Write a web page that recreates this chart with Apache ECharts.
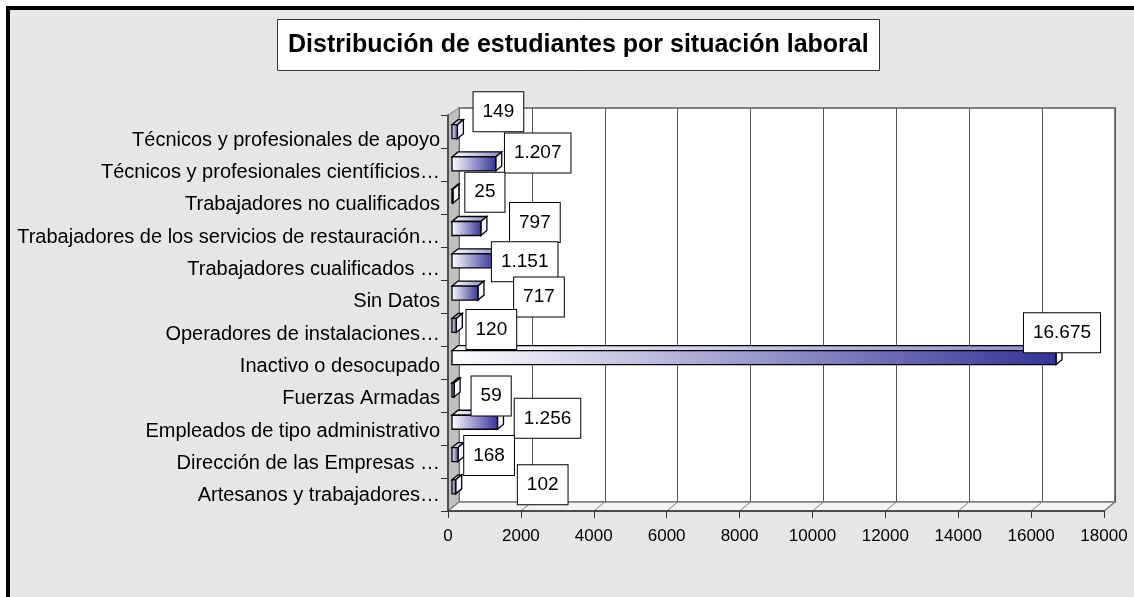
<!DOCTYPE html>
<html style="height: 100%">
  <head>
    <meta charset="UTF-8" />
    <title>Distribución de estudiantes por situación laboral</title>
    <script src="https://cdn.jsdelivr.net/npm/echarts@6/dist/echarts.min.js"></script>
  </head>
  <body style="height: 100%; margin: 0; background: #fff">
    <div id="main" style="width: 1134px; height: 597px"></div>
    <script>
      const chart = echarts.init(document.getElementById('main'))

      // categorias de arriba a abajo
      const categories = [
        'Técnicos y profesionales de apoyo',
        'Técnicos y profesionales científicios…',
        'Trabajadores no cualificados',
        'Trabajadores de los servicios de restauración…',
        'Trabajadores cualificados …',
        'Sin Datos',
        'Operadores de instalaciones…',
        'Inactivo o desocupado',
        'Fuerzas Armadas',
        'Empleados de tipo administrativo',
        'Dirección de las Empresas …',
        'Artesanos y trabajadores…',
      ]
      const values = [149, 1207, 25, 797, 1151, 717, 120, 16675, 59, 1256, 168, 102]
      const axisMax = 18000
      const axisStep = 2000

      // desplazamiento de cada etiqueta respecto al final de su barra (px)
      const labelNudge = [
        [41, -20], [42, -11], [32, -4], [54, -6], [31, 1], [61, 4],
        [35, 4], [6, -25], [37, 6], [50, -4], [31, 1], [87, -2],
      ]

      const FONT = 'Liberation Sans, Arial, sans-serif'
      const front = { left: 448, top: 115, width: 656, height: 396 }
      const back = { left: 459, top: 108, width: 656, height: 394 }
      const fmt = (v) => String(v).replace(/\B(?=(\d{3})+(?!\d))/g, '.')

      const frontGrad = new echarts.graphic.LinearGradient(0, 0, 1, 0, [
        { offset: 0, color: '#ffffff' },
        { offset: 1, color: '#333399' },
      ])
      const topGrad = new echarts.graphic.LinearGradient(0, 0, 1, 0, [
        { offset: 0, color: '#ffffff' },
        { offset: 1, color: '#8a8ac6' },
      ])

      function renderBar(params, api) {
        const c = api.value(1)
        const p0 = api.coord([0, c])
        const p1 = api.coord([api.value(0), c])
        const h = 14
        const dx = 6
        const dy = 5
        const x0 = p0[0]
        const x1 = p1[0]
        const yT = p0[1] - h / 2
        const yB = yT + h
        const line = { stroke: '#000', lineWidth: 1.3 }
        return {
          type: 'group',
          children: [
            {
              type: 'polygon',
              shape: { points: [[x0, yT], [x0 + dx, yT - dy], [x1 + dx, yT - dy], [x1, yT]] },
              style: Object.assign({ fill: topGrad }, line),
            },
            {
              type: 'polygon',
              shape: { points: [[x1, yT], [x1 + dx, yT - dy], [x1 + dx, yB - dy], [x1, yB]] },
              style: Object.assign({ fill: '#f2f2f8' }, line),
            },
            {
              type: 'rect',
              shape: { x: x0, y: yT, width: Math.max(x1 - x0, 0.5), height: h },
              style: Object.assign({ fill: frontGrad }, line),
            },
          ],
        }
      }

      // suelo y pared lateral (decoracion 3D)
      const floorLines = []
      for (let k = 0; k <= axisMax / axisStep; k++) {
        const fx = front.left + (front.width * k * axisStep) / axisMax
        const bx = back.left + (back.width * k * axisStep) / axisMax
        floorLines.push({
          type: 'line',
          z: 1,
          shape: { x1: fx, y1: front.top + front.height, x2: bx, y2: back.top + back.height },
          style: { stroke: '#808080', lineWidth: 1 },
        })
      }

      const option = {
        backgroundColor: '#ffffff',
        animation: false,
        title: {
          text: 'Distribución de estudiantes por situación laboral',
          left: 277,
          top: 19,
          padding: [11, 11],
          backgroundColor: '#ffffff',
          borderColor: '#333',
          borderWidth: 1,
          textStyle: { fontFamily: FONT, fontWeight: 'bold', fontSize: 25, lineHeight: 30, color: '#000' },
        },
        graphic: [
          {
            type: 'rect',
            z: -5,
            shape: { x: 8, y: 8, width: 1200, height: 700 },
            style: { fill: '#e6e6e6', stroke: '#000', lineWidth: 4 },
          },
          {
            type: 'polygon',
            z: 1,
            shape: {
              points: [
                [front.left, front.top],
                [back.left, back.top],
                [back.left, back.top + back.height],
                [front.left, front.top + front.height],
              ],
            },
            style: { fill: '#c0c0c0', stroke: '#808080', lineWidth: 1 },
          },
          {
            type: 'polygon',
            z: 1,
            shape: {
              points: [
                [front.left, front.top + front.height],
                [back.left, back.top + back.height],
                [back.left + back.width, back.top + back.height],
                [front.left + front.width, front.top + front.height],
              ],
            },
            style: { fill: '#f4f4f4', stroke: '#808080', lineWidth: 1.5 },
          },
          ...floorLines,
        ],
        grid: [
          // pared del fondo
          {
            left: back.left,
            top: back.top,
            width: back.width,
            height: back.height,
            show: true,
            backgroundColor: '#ffffff',
            borderColor: '#808080',
            borderWidth: 2,
          },
          // ejes del frente
          { left: front.left, top: front.top, width: front.width, height: front.height },
          // etiquetas de categoria
          { left: front.left, top: 124, width: front.width, height: 388 },
          // barras
          { left: 452, top: 115.5, width: 652, height: 387.5 },
        ],
        xAxis: [
          {
            gridIndex: 0,
            type: 'value',
            min: 0,
            max: axisMax,
            interval: axisStep,
            axisLine: { show: false },
            axisTick: { show: false },
            axisLabel: { show: false },
            splitLine: { show: true, lineStyle: { color: '#555', width: 1 } },
          },
          {
            gridIndex: 1,
            type: 'value',
            min: 0,
            max: axisMax,
            interval: axisStep,
            z: 3,
            axisLine: { show: true, lineStyle: { color: '#333', width: 1.5 } },
            axisTick: { show: true, length: 7, lineStyle: { color: '#333' } },
            axisLabel: {
              fontFamily: FONT,
              fontSize: 17,
              color: '#000',
              margin: 17,
              formatter: (v) => String(v),
            },
            splitLine: { show: false },
          },
          { gridIndex: 2, type: 'value', min: 0, max: axisMax, show: false },
          { gridIndex: 3, type: 'value', min: 0, max: axisMax, show: false },
        ],
        yAxis: [
          { gridIndex: 0, type: 'category', data: categories, inverse: true, show: false },
          {
            gridIndex: 1,
            type: 'category',
            data: categories,
            inverse: true,
            z: 3,
            axisLine: { show: true, lineStyle: { color: '#333', width: 1.5 } },
            axisTick: { show: true, length: 7, lineStyle: { color: '#333' } },
            axisLabel: { show: false },
          },
          {
            gridIndex: 2,
            type: 'category',
            data: categories,
            inverse: true,
            axisLine: { show: false },
            axisTick: { show: false },
            axisLabel: { fontFamily: FONT, fontSize: 20, color: '#000', margin: 8 },
          },
          { gridIndex: 3, type: 'category', data: categories, inverse: true, show: false },
        ],
        series: [
          {
            type: 'custom',
            xAxisIndex: 3,
            yAxisIndex: 3,
            z: 2,
            renderItem: renderBar,
            encode: { x: 0, y: 1 },
            data: values.map((v, i) => [v, i]),
          },
          {
            type: 'bar',
            xAxisIndex: 3,
            yAxisIndex: 3,
            z: 4,
            barWidth: 14,
            itemStyle: { color: 'transparent' },
            data: values,
            label: {
              show: true,
              position: 'right',
              formatter: (p) => fmt(p.value),
              fontFamily: FONT,
              fontSize: 19,
              lineHeight: 19,
              color: '#000',
              backgroundColor: '#ffffff',
              borderColor: '#000',
              borderWidth: 1,
              padding: [10, 9],
            },
            labelLayout: (p) => ({
              x: p.rect.x + p.rect.width + labelNudge[p.dataIndex][0],
              y: p.rect.y + p.rect.height / 2 + labelNudge[p.dataIndex][1],
              align: 'center',
              verticalAlign: 'middle',
            }),
          },
        ],
      }

      chart.setOption(option)
    </script>
  </body>
</html>
